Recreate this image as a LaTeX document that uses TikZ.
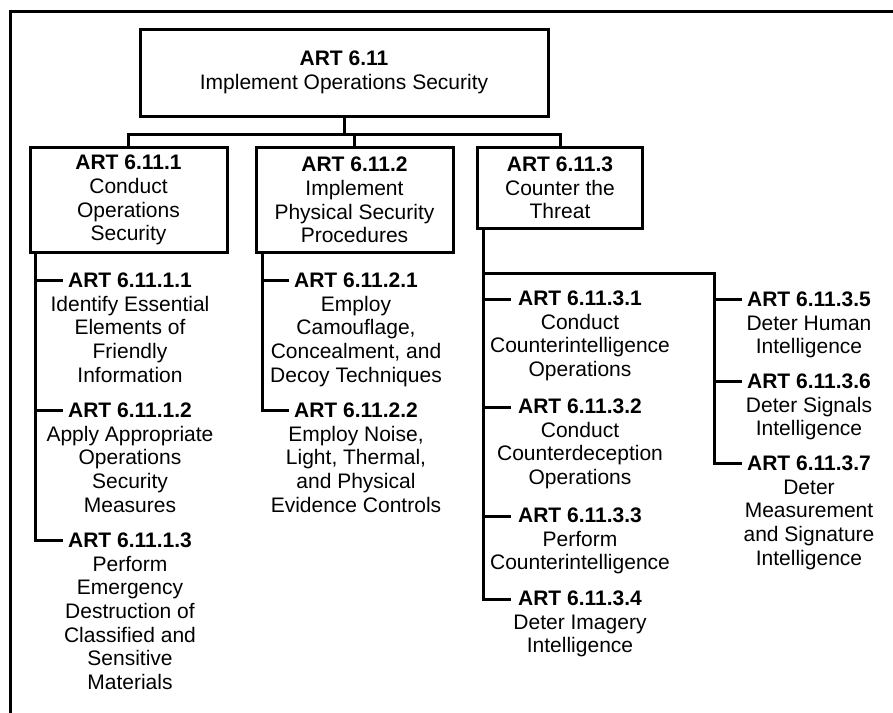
\documentclass[tikz,border=0pt]{standalone}
\usepackage{fontspec}
\setmainfont{Liberation Sans}
\newcommand\fsz{\fontsize{21}{23.7}\selectfont}
\begin{document}
\begin{tikzpicture}[x=1pt,y=-1pt,
  box/.style={draw, line width=3pt, align=center, inner sep=0pt, font=\fsz},
  item/.style={align=center, inner sep=0pt, anchor=north, font=\fsz},
  conn/.style={line width=3pt}]
\useasboundingbox (0,0) rectangle (893,712);
\clip (0,0) rectangle (893,712);
% frame
\draw[conn] (10,730) -- (10,11) -- (910,11);
% boxes
\node[box, minimum width=408pt, minimum height=87pt] (top) at (344,72.5) {\textbf{ART 6.11}\\Implement Operations Security};
\node[box, minimum width=197pt, minimum height=105pt] (b1) at (128.5,200) {\textbf{ART 6.11.1}\\Conduct\\Operations\\Security};
\node[box, minimum width=197pt, minimum height=105pt] (b2) at (354.5,200) {\textbf{ART 6.11.2}\\Implement\\Physical Security\\Procedures};
\node[box, minimum width=165pt, minimum height=81pt] (b3) at (560,188) {\textbf{ART 6.11.3}\\Counter the\\Threat};
% bus
\coordinate (bus) at (0,134.3);
\coordinate (bus3) at (b3.north |- bus);
\draw[conn] (top.south) -- (top.south |- bus);
\draw[conn] (b1.north) |- (bus3) -- (b3.north);
\draw[conn] (b2.north |- bus) -- (b2.north);
% spines
\coordinate (s1) at (35,0);
\coordinate (s2) at (262,0);
\coordinate (s3) at (483,0);
\coordinate (s4) at (714,0);
% tick ends
\coordinate (k111) at (63,280);
\coordinate (k112) at (63,410);
\coordinate (k113) at (63,540);
\coordinate (k121) at (289,280);
\coordinate (k122) at (289,410);
\coordinate (k131) at (511,299);
\coordinate (k132) at (511,407);
\coordinate (k133) at (511,516);
\coordinate (k134) at (511,599);
\coordinate (br) at (0,273);
\coordinate (k135) at (742,299);
\coordinate (k136) at (742,381);
\coordinate (k137) at (742,463);
% items
\node[item] (n111) at (130,272.5) {\textbf{ART 6.11.1.1}\\Identify Essential\\Elements of\\Friendly\\Information};
\node[item] (n112) at (130,402.5) {\textbf{ART 6.11.1.2}\\Apply Appropriate\\Operations\\Security\\Measures};
\node[item] (n113) at (130,532.5) {\textbf{ART 6.11.1.3}\\Perform\\Emergency\\Destruction of\\Classified and\\Sensitive\\Materials};
\node[item] (n121) at (356,272.5) {\textbf{ART 6.11.2.1}\\Employ\\Camouflage,\\Concealment, and\\Decoy Techniques};
\node[item] (n122) at (356,402.5) {\textbf{ART 6.11.2.2}\\Employ Noise,\\Light, Thermal,\\and Physical\\Evidence Controls};
\node[item] (n131) at (580,290.5) {\textbf{ART 6.11.3.1}\\Conduct\\Counterintelligence\\Operations};
\node[item] (n132) at (580,398.5) {\textbf{ART 6.11.3.2}\\Conduct\\Counterdeception\\Operations};
\node[item] (n133) at (580,507.5) {\textbf{ART 6.11.3.3}\\Perform\\Counterintelligence};
\node[item] (n134) at (580,590.5) {\textbf{ART 6.11.3.4}\\Deter Imagery\\Intelligence};
\node[item] (n135) at (809,291.5) {\textbf{ART 6.11.3.5}\\Deter Human\\Intelligence};
\node[item] (n136) at (809,373.5) {\textbf{ART 6.11.3.6}\\Deter Signals\\Intelligence};
\node[item] (n137) at (809,455.5) {\textbf{ART 6.11.3.7}\\Deter\\Measurement\\and Signature\\Intelligence};
% column 1
\draw[conn] (b1.south -| s1) |- (k113);
\draw[conn] (k111 -| s1) -- (k111);
\draw[conn] (k112 -| s1) -- (k112);
% column 2
\draw[conn] (b2.south -| s2) |- (k122);
\draw[conn] (k121 -| s2) -- (k121);
% column 3
\draw[conn] (b3.south -| s3) |- (k134);
\draw[conn] (k131 -| s3) -- (k131);
\draw[conn] (k132 -| s3) -- (k132);
\draw[conn] (k133 -| s3) -- (k133);
\draw[conn] (br -| s3) -| (k137 -| s4) -- (k137);
\draw[conn] (k135 -| s4) -- (k135);
\draw[conn] (k136 -| s4) -- (k136);
\end{tikzpicture}
\end{document}
